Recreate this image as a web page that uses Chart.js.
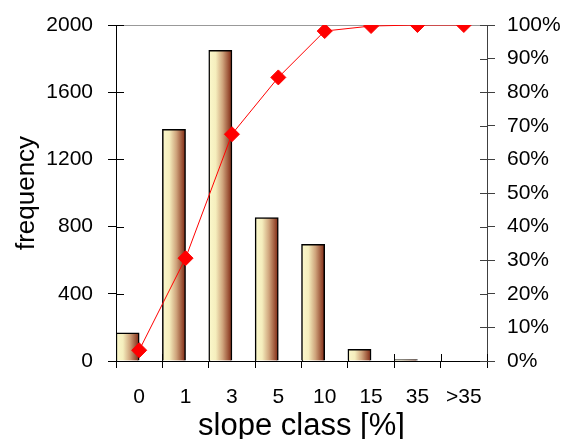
<!DOCTYPE html>
<html><head><meta charset="utf-8">
<script src="https://cdn.jsdelivr.net/npm/chart.js@4.4.1/dist/chart.umd.min.js"></script>
<style>html,body{margin:0;padding:0;background:#fff}#wrap{width:568px;height:439px}</style>
</head><body><div id="wrap"><canvas id="c" width="568" height="439"></canvas></div>
<script>
const categories = ['0', '1', '3', '5', '10', '15', '35', '>35'];
const frequency = [168, 1379, 1849, 853, 694, 70, 8, 0];
const cumulativePercent = [3.2, 30.6, 67.5, 84.4, 98.2, 99.7, 100, 100];
const frequencyTicks = [0, 400, 800, 1200, 1600, 2000];
const percentTicks = [0, 10, 20, 30, 40, 50, 60, 70, 80, 90, 100];

const FONT = 'Liberation Sans, Arial, sans-serif';

function barGradient(ctx) {
  const chart = ctx.chart;
  const xs = chart.scales && chart.scales.x;
  if (!xs || ctx.dataIndex === undefined) return '#e8dcb0';
  const x0 = xs.getPixelForValue(ctx.dataIndex - 0.5);
  const x1 = xs.getPixelForValue(ctx.dataIndex);
  if (!isFinite(x0) || !isFinite(x1)) return '#e8dcb0';
  const g = chart.ctx.createLinearGradient(x0, 0, x1, 0);
  g.addColorStop(0, '#fbf8cc');
  g.addColorStop(0.3, '#f5eebd');
  g.addColorStop(0.6, '#cfa47c');
  g.addColorStop(1, '#7e2510');
  return g;
}

const frame = {
  id: 'frame',
  beforeDatasetsDraw(chart) {
    const {ctx, chartArea: a, scales} = chart;
    ctx.save();
    ctx.lineWidth = 1;
    ctx.strokeStyle = '#999999';
    ctx.beginPath();
    ctx.moveTo(a.left, a.top + 0.5);
    ctx.lineTo(a.right, a.top + 0.5);
    ctx.stroke();
    ctx.strokeStyle = '#000000';
    ctx.beginPath();
    scales.y.ticks.forEach((t, i) => {
      const y = Math.round(scales.y.getPixelForTick(i)) + 0.5;
      ctx.moveTo(a.left, y); ctx.lineTo(a.left + 8, y);
    });
    for (let i = 0; i <= categories.length; i++) {
      const x = Math.round(scales.x.getPixelForValue(i - 0.5)) + 0.5;
      ctx.moveTo(x, a.bottom); ctx.lineTo(x, a.bottom - 7);
    }
    ctx.stroke();
    ctx.strokeStyle = '#404040';
    ctx.beginPath();
    scales.y1.ticks.forEach((t, i) => {
      const y = Math.round(scales.y1.getPixelForTick(i)) + 0.5;
      ctx.moveTo(a.right, y); ctx.lineTo(a.right - 7, y);
    });
    ctx.stroke();
    ctx.restore();
  }
};

new Chart(document.getElementById('c'), {
  data: {
    labels: categories,
    datasets: [
      {
        type: 'line',
        label: 'cumulative %',
        data: cumulativePercent,
        yAxisID: 'y1',
        order: 0,
        borderColor: '#ff0000',
        borderWidth: 1,
        pointStyle: 'rectRot',
        pointRadius: 7.5,
        pointBackgroundColor: '#ff0000',
        pointBorderColor: '#ff0000',
        pointBorderWidth: 1,
        tension: 0
      },
      {
        type: 'bar',
        label: 'frequency',
        data: frequency,
        yAxisID: 'y',
        order: 1,
        backgroundColor: barGradient,
        borderColor: '#000000',
        borderWidth: 1.5,
        categoryPercentage: 1,
        barPercentage: 1
      },
      {
        type: 'bar',
        label: '',
        data: categories.map(() => null),
        yAxisID: 'y',
        order: 2,
        categoryPercentage: 1,
        barPercentage: 1
      }
    ]
  },
  options: {
    responsive: false,
    animation: false,
    devicePixelRatio: 1,
    layout: {padding: {top: 25, left: 0, right: 0, bottom: 0}},
    plugins: {legend: {display: false}, tooltip: {enabled: false}},
    scales: {
      x: {
        type: 'category',
        offset: true,
        grid: {offset: true, drawOnChartArea: false, drawTicks: true, tickLength: 7, color: '#000000'},
        border: {color: '#000000', width: 1},
        ticks: {color: '#000000', font: {family: FONT, size: 21}, padding: 17, maxRotation: 0},
        title: {display: true, text: 'slope class [%]', color: '#000000', font: {family: FONT, size: 31, lineHeight: 0.8}, padding: {top: 0, bottom: 0}},
        afterFit(s) { s.height = 78; s.paddingLeft = 0; s.paddingRight = 0; }
      },
      y: {
        position: 'left',
        min: 0, max: 2000,
        afterBuildTicks(s) { s.ticks = frequencyTicks.map(v => ({value: v})); },
        grid: {drawOnChartArea: false, drawTicks: true, tickLength: 8, color: '#000000'},
        border: {color: '#000000', width: 1},
        ticks: {color: '#000000', font: {family: FONT, size: 21}, padding: 15, callback: v => String(v)},
        title: {display: true, text: 'frequency', color: '#000000', font: {family: FONT, size: 26}, padding: {top: 11, bottom: 0}},
        afterFit(s) { s.width = 116; s.paddingTop = 0; s.paddingBottom = 0; }
      },
      y1: {
        position: 'right',
        min: 0, max: 100,
        afterBuildTicks(s) { s.ticks = percentTicks.map(v => ({value: v})); },
        grid: {drawOnChartArea: false, drawTicks: true, tickLength: 8, color: '#404040'},
        border: {color: '#404040', width: 1},
        ticks: {color: '#000000', font: {family: FONT, size: 21}, padding: 12, callback: v => v + '%'},
        afterFit(s) { s.width = 81; s.paddingTop = 0; s.paddingBottom = 0; }
      }
    }
  },
  plugins: [frame]
});
</script>
</body></html>
